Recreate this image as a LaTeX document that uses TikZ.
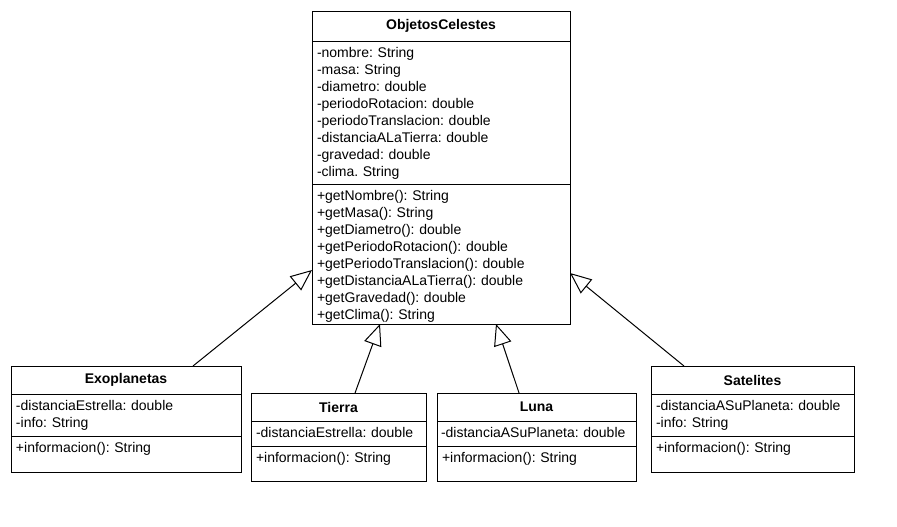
\documentclass[tikz,border=0pt]{standalone}
\usepackage{fontspec}
\setmainfont{Liberation Sans}
\usetikzlibrary{arrows.meta,positioning}
\frenchspacing

\begin{document}
\begin{tikzpicture}[
  x=0.75pt, y=-0.75pt,
  font=\fontsize{10.5pt}{12.75pt}\selectfont,
  umlbox/.style={
    draw=black,
    line width=0.75pt,
    fill=white,
    inner sep=0pt,
    outer sep=0pt
  },
  classhead/.style={umlbox, anchor=north west, minimum height=21pt, font=\fontsize{10.5pt}{12.75pt}\selectfont\bfseries},
  members/.style={umlbox, align=left, inner xsep=3.75pt, text height=12.4pt},
  inherit/.style={-{Triangle[open, length=16pt, width=13.5pt]}, line width=0.75pt, draw=black}
]
\useasboundingbox (0,0) rectangle (897,526);

% superclase
\node[classhead, minimum width=193.5pt, minimum height=22.5pt] (objH) at (312,11) {ObjetosCelestes};
\node[members, text width=186pt, text depth=94.85pt, below=0pt of objH] (objA) {-nombre: String\\-masa: String\\-diametro: double\\-periodoRotacion: double\\-periodoTranslacion: double\\-distanciaALaTierra: double\\-gravedad: double\\-clima. String};
\node[members, text width=186pt, text depth=92.6pt, below=0pt of objA] (objM) {+getNombre(): String\\+getMasa(): String\\+getDiametro(): double\\+getPeriodoRotacion(): double\\+getPeriodoTranslacion(): double\\+getDistanciaALaTierra(): double\\+getGravedad(): double\\+getClima(): String};

% subclases
\node[classhead, minimum width=172.5pt] (exoH) at (11,366) {Exoplanetas};
\node[members, text width=165pt, text depth=19.1pt, below=0pt of exoH] (exoA) {-distanciaEstrella: double\\-info: String};
\node[members, text width=165pt, text depth=14.6pt, below=0pt of exoA] (exoM) {+informacion(): String};

\node[classhead, minimum width=131.25pt] (tieH) at (251,393) {Tierra};
\node[members, text width=123.75pt, text depth=6.35pt, below=0pt of tieH] (tieA) {-distanciaEstrella: double};
\node[members, text width=123.75pt, text depth=13.85pt, below=0pt of tieA] (tieM) {+informacion(): String};

\node[classhead, minimum width=149.25pt] (lunH) at (437,393) {Luna};
\node[members, inner xsep=3pt, text width=143.25pt, text depth=6.35pt, below=0pt of lunH] (lunA) {-distanciaASuPlaneta: double};
\node[members, text width=141.75pt, text depth=13.85pt, below=0pt of lunA] (lunM) {+informacion(): String};

\node[classhead, minimum width=152.25pt] (satH) at (651,366) {Satelites};
\node[members, text width=144.75pt, text depth=19.1pt, below=0pt of satH] (satA) {-distanciaASuPlaneta: double\\-info: String};
\node[members, text width=144.75pt, text depth=14.6pt, below=0pt of satA] (satM) {+informacion(): String};

% herencia
\draw[inherit] ([xshift=50.25pt]exoH.north) -- ([yshift=-12pt]objM.west);
\draw[inherit] ([xshift=12.4pt]tieH.north) -- ([xshift=-45.75pt]objM.south);
\draw[inherit] ([xshift=-13.1pt]lunH.north) -- ([xshift=41.25pt]objM.south);
\draw[inherit] ([xshift=-51.4pt]satH.north) -- ([yshift=-14.25pt]objM.east);

\end{tikzpicture}
\end{document}
